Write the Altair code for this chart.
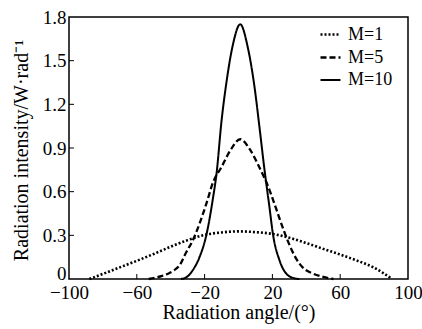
import altair as alt
import pandas as pd

# M=1 (dotted)
m1_angle = [-88, -80, -70, -60, -50, -40, -30, -20, -10, 0, 10, 20, 30, 40, 50, 60, 70, 80, 90]
m1_value = [0.0, 0.035, 0.08, 0.125, 0.172, 0.222, 0.267, 0.303, 0.32, 0.327, 0.322, 0.31, 0.283, 0.247, 0.207, 0.168, 0.126, 0.078, 0.005]

# M=5 (dashed)
m5_angle = [-53, -49, -45, -41, -38, -35, -31, -27, -23, -19, -15, -10, -5, 1, 7, 13, 17, 22, 26, 30, 34, 38, 44, 50, 56]
m5_value = [0.0, 0.01, 0.022, 0.04, 0.06, 0.09, 0.18, 0.265, 0.38, 0.516, 0.665, 0.77, 0.88, 0.96, 0.885, 0.75, 0.65, 0.49, 0.356, 0.236, 0.14, 0.078, 0.037, 0.014, 0.0]

# M=10 (solid)
m10_angle = [-34, -31, -27, -23, -19, -15, -13, -10, -7, -3.3, 1, 5.5, 9.5, 12.4, 15.4, 18.3, 20.3, 24.2, 28.2, 33, 36]
m10_value = [0.0, 0.01, 0.06, 0.15, 0.30, 0.56, 0.72, 1.087, 1.36, 1.61, 1.75, 1.59, 1.315, 1.04, 0.745, 0.49, 0.31, 0.128, 0.037, 0.005, 0.0]

series_names = ["M=1", "M=5", "M=10"]
x_ticks = [-100, -60, -20, 20, 60, 100]
y_ticks = [0, 0.3, 0.6, 0.9, 1.2, 1.5, 1.8]
inner_x_ticks = [-60, -20, 20, 60]
inner_y_ticks = [0.3, 0.6, 0.9, 1.2, 1.5]

rows = []
for name, xs, ys in zip(series_names, [m1_angle, m5_angle, m10_angle], [m1_value, m5_value, m10_value]):
    for a, v in zip(xs, ys):
        rows.append({"angle": a, "value": v, "series": name})
df = pd.DataFrame(rows)

W, H = 339, 262
FONT = "Liberation Serif"

xscale = alt.Scale(domain=[-100, 100], nice=False)
yscale = alt.Scale(domain=[0, 1.8], nice=False)

lines = alt.Chart(df).mark_line(color="black", interpolate="monotone").encode(
    x=alt.X("angle:Q", scale=xscale,
            axis=alt.Axis(values=x_ticks, ticks=False, domain=False, grid=False,
                          labelFont=FONT, labelFontSize=19, labelColor="black", labelPadding=4,
                          title="Radiation angle/(°)", titleFont=FONT, titleFontSize=20,
                          titleFontWeight="normal", titleColor="black", titlePadding=0,
                          labelFlush=False)),
    y=alt.Y("value:Q", scale=yscale,
            axis=alt.Axis(values=y_ticks, ticks=False, domain=False, grid=False,
                          labelFont=FONT, labelFontSize=19, labelColor="black", labelPadding=3,
                          labelExpr="datum.value == 0 ? '0' : format(datum.value, '.1f')",
                          labelBaseline={"condition": {"test": "datum.value === 0", "value": "alphabetic"},
                                         "value": "middle"},
                          title="Radiation intensity/W·rad⁻¹", titleFont=FONT, titleFontSize=20,
                          titleFontWeight="normal", titleColor="black",
                          titleX=-48, titleY=H / 2 + 2, titleBaseline="middle", titleAlign="center",
                          labelFlush=False)),
    strokeDash=alt.StrokeDash("series:N", sort=series_names,
                              scale=alt.Scale(domain=series_names, range=[[2, 2], [6, 3], [1, 0]]),
                              legend=alt.Legend(title=None, orient="none", legendX=250, legendY=6,
                                                symbolType="stroke", symbolSize=400,
                                                symbolStrokeColor="black", symbolStrokeWidth=2,
                                                labelFont=FONT, labelFontSize=18, labelColor="black",
                                                labelOffset=6, rowPadding=2, padding=0)),
    strokeWidth=alt.StrokeWidth("series:N", sort=series_names,
                                scale=alt.Scale(domain=series_names, range=[2.6, 2, 2]),
                                legend=None),
    order=alt.Order("angle:Q"),
)

xt = alt.Chart(pd.DataFrame({"t": inner_x_ticks})).mark_rule(color="black", strokeWidth=1).encode(
    x=alt.X("t:Q", scale=xscale), y=alt.value(H), y2=alt.value(H - 5))
yt = alt.Chart(pd.DataFrame({"t": inner_y_ticks})).mark_rule(color="black", strokeWidth=1).encode(
    y=alt.Y("t:Q", scale=yscale), x=alt.value(0), x2=alt.value(5))

chart = alt.layer(lines, xt, yt).properties(
    width=W, height=H,
    autosize=alt.AutoSizeParams(type="none"),
    padding={"left": 69, "top": 17, "right": 14, "bottom": 50},
    background="white",
).configure_view(stroke="black", strokeWidth=1.5)

chart.save("out.html", embed_options={"renderer": "svg", "actions": False})
